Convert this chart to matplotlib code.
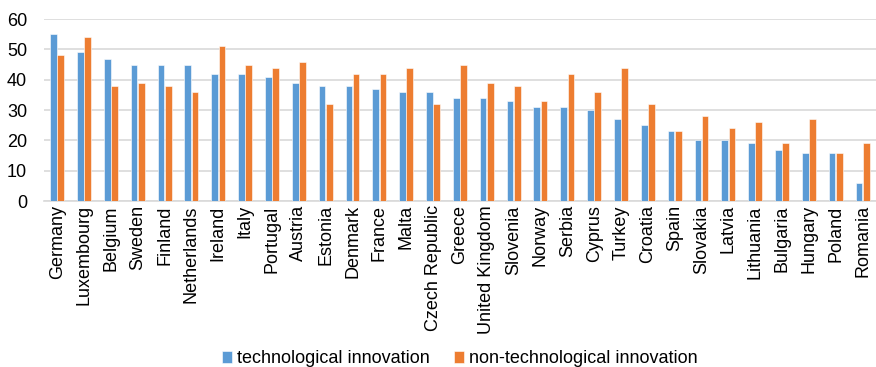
import numpy as np
import matplotlib
matplotlib.use("Agg")
import matplotlib.pyplot as plt

plt.rcParams['font.family'] = ['Liberation Sans', 'DejaVu Sans']

countries = ["Germany", "Luxembourg", "Belgium", "Sweden", "Finland", "Netherlands",
             "Ireland", "Italy", "Portugal", "Austria", "Estonia", "Denmark", "France",
             "Malta", "Czech Republic", "Greece", "United Kingdom", "Slovenia", "Norway",
             "Serbia", "Cyprus", "Turkey", "Croatia", "Spain", "Slovakia", "Latvia",
             "Lithuania", "Bulgaria", "Hungary", "Poland", "Romania"]
tech = [55, 49, 47, 45, 45, 45, 42, 42, 41, 39, 38, 38, 37, 36, 36, 34, 34, 33, 31,
        31, 30, 27, 25, 23, 20, 20, 19, 17, 16, 16, 6]
nontech = [48, 54, 38, 39, 38, 36, 51, 45, 44, 46, 32, 42, 42, 44, 32, 45, 39, 38, 33,
           42, 36, 44, 32, 23, 28, 24, 26, 19, 27, 16, 19]

fig = plt.figure(figsize=(8.76, 3.67), dpi=100)
ax = fig.add_axes([0.05, 0.452, 0.95, 0.496])

x = np.arange(len(countries))
w = 0.25
ax.bar(x - 0.135, tech, w, color="#5B9BD5", edgecolor="white", linewidth=0.4,
       label="technological innovation", zorder=3)
ax.bar(x + 0.135, nontech, w, color="#ED7D31", edgecolor="white", linewidth=0.4,
       label="non-technological innovation", zorder=3)

ax.set_xlim(-0.5, len(countries) - 0.5)
ax.set_ylim(0, 60)
ax.set_yticks(range(0, 61, 10))
ax.set_xticks(x)
ax.set_xticklabels(countries, rotation=90, fontsize=13)
ax.tick_params(axis="y", labelsize=13, length=0, pad=12)
ax.tick_params(axis="x", length=0, pad=3)
ax.grid(axis="y", color="#D9D9D9", linewidth=1.2, zorder=0)
for s in ["top", "right", "left"]:
    ax.spines[s].set_visible(False)
ax.spines["bottom"].set_color("#D9D9D9")
ax.spines["bottom"].set_linewidth(1.2)

fig.legend(loc="lower center", bbox_to_anchor=(0.525, -0.045), ncol=2, frameon=False,
           fontsize=13, handlelength=0.55, handleheight=0.7, handletextpad=0.3,
           columnspacing=1.3)

fig.savefig("out.png", dpi=100)
